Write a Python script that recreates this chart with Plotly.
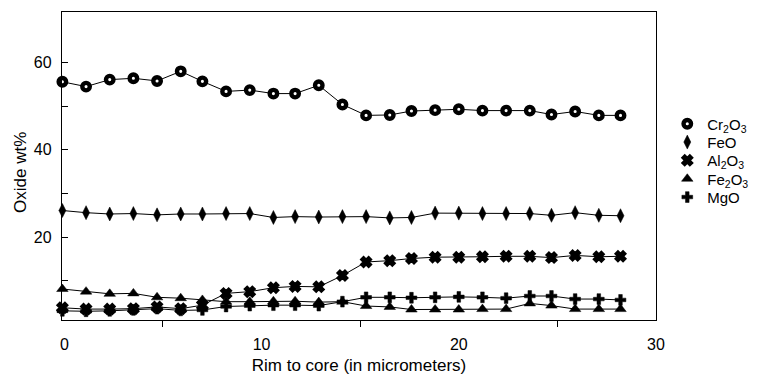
import plotly.graph_objects as go

# Distance from rim to core (micrometers)
x_pos = [-0.1, 1.1, 2.3, 3.5, 4.7, 5.9, 7.0, 8.2, 9.4, 10.6, 11.7, 12.9, 14.1,
         15.3, 16.5, 17.6, 18.8, 20.0, 21.2, 22.4, 23.6, 24.7, 25.9, 27.1, 28.2]

cr2o3 = [55.6, 54.5, 56.1, 56.4, 55.8, 58.0, 55.7, 53.4, 53.7, 52.9, 52.9, 54.8, 50.4,
         47.9, 48.0, 48.9, 49.1, 49.3, 49.0, 49.0, 49.0, 48.1, 48.8, 47.9, 47.9]
feo = [26.1, 25.6, 25.3, 25.4, 25.1, 25.3, 25.3, 25.4, 25.4, 24.5, 24.7, 24.6, 24.7,
       24.7, 24.4, 24.5, 25.5, 25.5, 25.4, 25.4, 25.4, 25.0, 25.6, 25.0, 24.9]
al2o3 = [3.8, 3.5, 3.5, 3.6, 4.0, 3.6, 4.4, 7.1, 7.5, 8.4, 8.7, 8.6, 11.2,
         14.3, 14.6, 15.1, 15.4, 15.4, 15.5, 15.6, 15.6, 15.3, 15.8, 15.5, 15.6]
fe2o3 = [8.1, 7.5, 7.0, 7.1, 6.2, 6.0, 5.6, 5.2, 5.2, 5.3, 5.3, 5.1, 5.2,
         4.2, 4.0, 3.4, 3.4, 3.4, 3.5, 3.5, 4.8, 4.3, 3.5, 3.5, 3.5]
mgo = [3.1, 3.0, 3.1, 3.3, 3.6, 3.2, 3.3, 4.1, 4.3, 4.4, 4.4, 4.3, 5.2,
       6.2, 6.2, 6.1, 6.2, 6.3, 6.2, 6.0, 6.5, 6.5, 5.8, 5.8, 5.6]

series_names = ["Cr<sub>2</sub>O<sub>3</sub>", "FeO", "Al<sub>2</sub>O<sub>3</sub>",
                "Fe<sub>2</sub>O<sub>3</sub>", "MgO"]
series_values = [cr2o3, feo, al2o3, fe2o3, mgo]

x_tick_vals = [0, 10, 20, 30]
x_minor_ticks = [5, 15, 25]
y_tick_vals = [20, 40, 60]
y_minor_ticks = [10, 30, 50]

marker_styles = [
    dict(symbol="circle", size=7.5, color="white", line=dict(color="black", width=4.4)),
    dict(symbol="diamond-tall", size=10, color="black", line=dict(color="black", width=0.5)),
    dict(symbol="x", size=9, color="black", line=dict(color="black", width=2)),
    dict(symbol="triangle-up", size=10, color="black", line=dict(color="black", width=0.5)),
    dict(symbol="cross", size=9, color="black", line=dict(color="black", width=0.5)),
]

FONT = "Liberation Sans, Arial, Helvetica, sans-serif"

fig = go.Figure()

for name, vals in zip(series_names, series_values):
    fig.add_trace(go.Scatter(x=x_pos, y=vals, mode="lines", showlegend=False,
                             line=dict(color="black", width=1), hoverinfo="skip",
                             cliponaxis=False))

legend_ids = ["legend", "legend2", "legend3", "legend4", "legend5"]
for name, vals, ms, lid in zip(series_names, series_values, marker_styles, legend_ids):
    fig.add_trace(go.Scatter(x=x_pos, y=vals, mode="markers", name=name,
                             marker=ms, cliponaxis=False, legend=lid))

# one single-item legend per series so that the row spacing matches the original
legend_rows_px = [124, 142.3, 160.6, 179, 197.3]
plot_top, plot_bottom = 12, 320
for lid, py in zip(legend_ids, legend_rows_px):
    fig.update_layout({lid: dict(
        x=1.019, y=(plot_bottom - py) / (plot_bottom - plot_top),
        xanchor="left", yanchor="middle",
        font=dict(family=FONT, size=15, color="black"),
        bgcolor="rgba(0,0,0,0)", itemwidth=30)})

fig.update_layout(
    width=766, height=376,
    margin=dict(l=62, r=93, t=plot_top, b=376 - plot_bottom),
    paper_bgcolor="white", plot_bgcolor="white",
    font=dict(family=FONT, color="black", size=16),
    xaxis=dict(range=[-0.12, 30], tickvals=x_tick_vals, ticktext=[str(v) for v in x_tick_vals],
               ticks="", showgrid=False, zeroline=False, automargin=False,
               showline=True, linecolor="black", linewidth=1.3, mirror=True,
               ticklabelstandoff=10, tickfont=dict(size=16),
               minor=dict(tickvals=x_minor_ticks, ticks="outside", ticklen=6,
                          tickcolor="black", tickwidth=1.3, showgrid=False),
               title=dict(text="Rim to core (in micrometers)", font=dict(size=17), standoff=6)),
    yaxis=dict(range=[1, 71.6], tickvals=y_tick_vals, ticks="inside", ticklen=6,
               tickcolor="black", tickwidth=1.3, showgrid=False, zeroline=False,
               automargin=False,
               showline=True, linecolor="black", linewidth=1.3, mirror=True,
               tickfont=dict(size=16), ticklabelstandoff=6,
               minor=dict(tickvals=y_minor_ticks, ticks="inside", ticklen=6,
                          tickcolor="black", tickwidth=1.3, showgrid=False)),
    annotations=[dict(text="Oxide wt%", textangle=-90, showarrow=False,
                      xref="paper", yref="paper", x=-0.071, y=0.48,
                      xanchor="center", yanchor="middle", font=dict(size=17))],
)

# remove the browser's default page margin so the figure sits at the window's corner
fig.write_html("out.html", config={"displayModeBar": False},
               post_script="document.body.style.margin='0px';document.body.style.overflow='hidden';")
